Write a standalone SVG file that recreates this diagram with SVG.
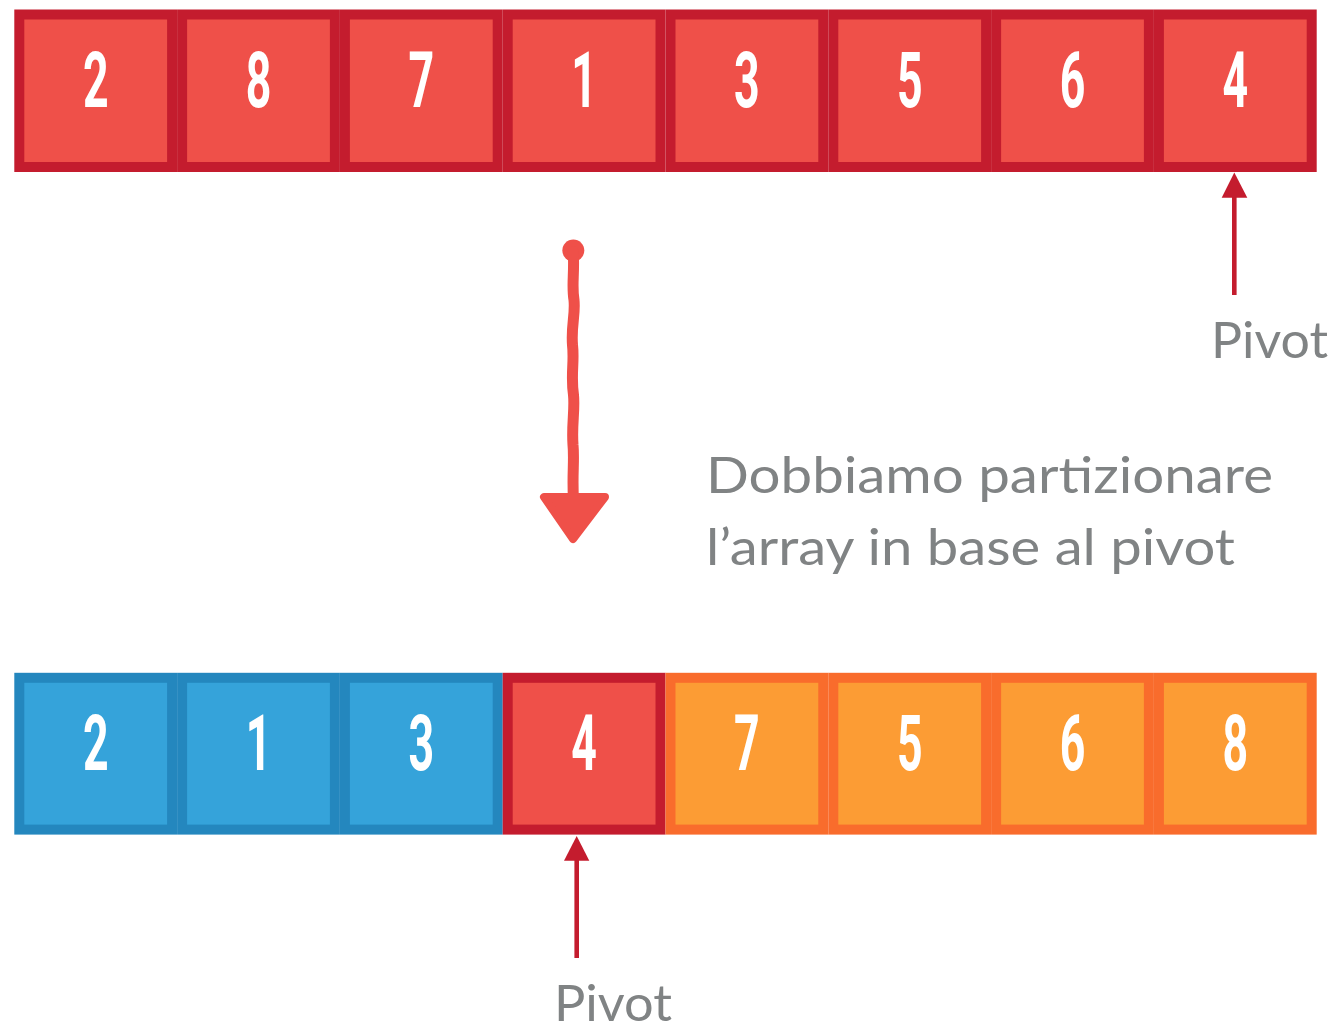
<svg xmlns="http://www.w3.org/2000/svg" width="1339" height="1027" viewBox="0 0 1339 1027">
<style>
.red rect{fill:#EF5049;stroke:#C41C2E;stroke-width:10}
.blue rect{fill:#35A3DA;stroke:#2487BE;stroke-width:10}
.orange rect{fill:#FC9C34;stroke:#F96C2C;stroke-width:10}
.num{font-family:Roboto,"Liberation Sans",sans-serif;font-weight:700;font-size:77px;fill:#FFFFFF;text-anchor:middle}
.lbl{font-family:Lato,"Open Sans",sans-serif;fill:#808384}
.pv{stroke:#C41C2E;stroke-width:4.6;fill:none}
</style>
<rect width="1339" height="1027" fill="#FFFFFF"/>
<g id="top-row">
<g id="t0" class="red"><rect x="19.3" y="14.5" width="152.8" height="152.5"/><text class="num" transform="translate(95.7,107.3) scale(0.58,1)">2</text></g>
<g id="t1" class="red"><rect x="182.1" y="14.5" width="152.8" height="152.5"/><text class="num" transform="translate(258.5,107.3) scale(0.58,1)">8</text></g>
<g id="t2" class="red"><rect x="344.9" y="14.5" width="152.8" height="152.5"/><text class="num" transform="translate(421.3,107.3) scale(0.58,1)">7</text></g>
<g id="t3" class="red"><rect x="507.7" y="14.5" width="152.8" height="152.5"/><text class="num" transform="translate(584.1,107.3) scale(0.58,1)">1</text></g>
<g id="t4" class="red"><rect x="670.5" y="14.5" width="152.8" height="152.5"/><text class="num" transform="translate(746.9,107.3) scale(0.58,1)">3</text></g>
<g id="t5" class="red"><rect x="833.3" y="14.5" width="152.8" height="152.5"/><text class="num" transform="translate(909.7,107.3) scale(0.58,1)">5</text></g>
<g id="t6" class="red"><rect x="996.1" y="14.5" width="152.8" height="152.5"/><text class="num" transform="translate(1072.5,107.3) scale(0.58,1)">6</text></g>
<g id="t7" class="red"><rect x="1158.9" y="14.5" width="152.8" height="152.5"/><text class="num" transform="translate(1235.3,107.3) scale(0.58,1)">4</text></g>
</g>
<g id="bottom-row">
<g id="b0" class="blue"><rect x="19.3" y="677.8" width="152.8" height="151.8"/><text class="num" transform="translate(95.7,770) scale(0.58,1)">2</text></g>
<g id="b1" class="blue"><rect x="182.1" y="677.8" width="152.8" height="151.8"/><text class="num" transform="translate(258.5,770) scale(0.58,1)">1</text></g>
<g id="b2" class="blue"><rect x="344.9" y="677.8" width="152.8" height="151.8"/><text class="num" transform="translate(421.3,770) scale(0.58,1)">3</text></g>
<g id="b3" class="red"><rect x="507.7" y="677.8" width="152.8" height="151.8"/><text class="num" transform="translate(584.1,770) scale(0.58,1)">4</text></g>
<g id="b4" class="orange"><rect x="670.5" y="677.8" width="152.8" height="151.8"/><text class="num" transform="translate(746.9,770) scale(0.58,1)">7</text></g>
<g id="b5" class="orange"><rect x="833.3" y="677.8" width="152.8" height="151.8"/><text class="num" transform="translate(909.7,770) scale(0.58,1)">5</text></g>
<g id="b6" class="orange"><rect x="996.1" y="677.8" width="152.8" height="151.8"/><text class="num" transform="translate(1072.5,770) scale(0.58,1)">6</text></g>
<g id="b7" class="orange"><rect x="1158.9" y="677.8" width="152.8" height="151.8"/><text class="num" transform="translate(1235.3,770) scale(0.58,1)">8</text></g>
</g>
<g id="connectors">
<line class="pv" x1="1234.3" y1="196" x2="1234.3" y2="295"/>
<polygon points="1234.3,172.5 1247.3,197.7 1221.7,197.7" fill="#C41C2E"/>
<line class="pv" x1="576.7" y1="859" x2="576.7" y2="958"/>
<polygon points="576.7,836 589.3,860.7 564,860.7" fill="#C41C2E"/>
<g id="hand-arrow" fill="#EF5049" stroke="#EF5049">
<circle cx="573.3" cy="250.5" r="11" stroke="none"/>
<path d="M573.3,252 C574.5,275 571.5,285 574,300 C575.5,315 571,325 572.5,345 C574.5,362 570.5,375 573.5,395 C575,410 571.5,425 573,445 C574.5,460 572,475 573.5,500" fill="none" stroke-width="11" stroke-linecap="round"/>
<polygon points="544,497 605,497 573,539" stroke-width="8" stroke-linejoin="round"/>
</g>
</g>
<g id="labels">
<text class="lbl" x="1211" y="357.5" font-size="51" textLength="117" lengthAdjust="spacingAndGlyphs">Pivot</text>
<text class="lbl" x="554" y="1021" font-size="51" textLength="118" lengthAdjust="spacingAndGlyphs">Pivot</text>
<text class="lbl" x="706" y="492.7" font-size="50" textLength="567" lengthAdjust="spacingAndGlyphs">Dobbiamo partizionare</text>
<text class="lbl" x="706" y="565" font-size="50" textLength="529" lengthAdjust="spacingAndGlyphs">l’array in base al pivot</text>
</g>
</svg>
